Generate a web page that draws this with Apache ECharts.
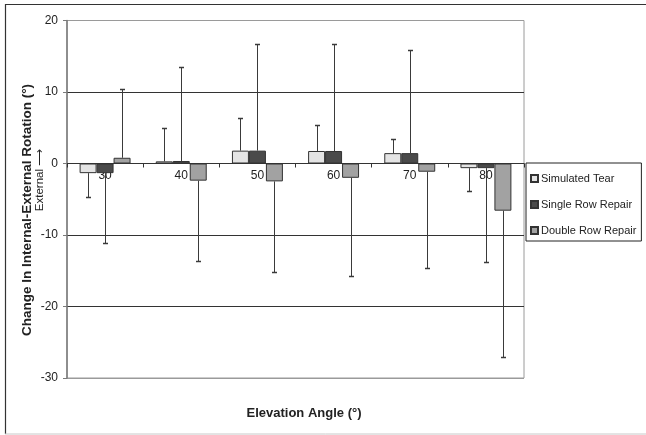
<!DOCTYPE html>
<html><head><meta charset="utf-8">
<script src="https://cdn.jsdelivr.net/npm/echarts@6/dist/echarts.min.js"></script>
<style>html,body{margin:0;padding:0;background:#fff}#c{width:646px;height:435px}</style>
</head><body><div id="c"></div>
<script>
var categories = ['30', '40', '50', '60', '70', '80'];
var seriesNames = ['Simulated Tear', 'Single Row Repair', 'Double Row Repair'];
var simulatedTear = [-1.35, 0.3, 1.8, 1.75, 1.45, -0.65];
var singleRow = [-1.35, 0.35, 1.8, 1.75, 1.45, -0.65];
var doubleRow = [0.8, -2.4, -2.5, -2.0, -1.15, -6.6];
var errSimulatedTear = [3.3, 4.7, 4.5, 3.6, 2.0, 3.2];
var errSingleRow = [9.7, 13.2, 14.9, 15.0, 14.4, 13.1];
var errDoubleRow = [9.6, 11.2, 12.7, 13.7, 13.4, 20.4];
var yTicks = [-30, -20, -10, 0, 10, 20];

var values = [simulatedTear, singleRow, doubleRow];
var errs = [errSimulatedTear, errSingleRow, errDoubleRow];
var colors = ['#e4e4e4', '#4a4a4a', '#a2a2a2'];
var BAR_FRAC = 0.223;

var GRID_TOP = 20.5, GRID_BOTTOM = 57, H = 435;
var yMin = yTicks[0], yMax = yTicks[yTicks.length - 1];
var zeroOffset = -((H - GRID_TOP - GRID_BOTTOM) * (0 - yMin) / (yMax - yMin));

var series = [];
values.forEach(function (vals, k) {
  series.push({
    name: seriesNames[k], type: 'bar', data: vals,
    barWidth: (BAR_FRAC * 100) + '%', barGap: '0%',
    itemStyle: { color: colors[k], borderColor: '#333', borderWidth: 1 },
    z: 3
  });
});
var errData = [];
values.forEach(function (vals, k) {
  vals.forEach(function (v, i) {
    var tip = v + (v >= 0 ? 1 : -1) * errs[k][i];
    errData.push([i, tip, v, k]);
  });
});
series.push({
  type: 'custom', data: errData, z: 5, silent: true,
  renderItem: function (params, api) {
    var i = api.value(0), tip = api.value(1), base = api.value(2), k = api.value(3);
    var band = api.size([1, 0])[0];
    var bw = band * BAR_FRAC;
    var off = (k - 1) * bw;
    var p1 = api.coord([i, base]);
    var p2 = api.coord([i, tip]);
    var x = Math.round(p1[0] + off) + 0.5;
    var y2 = Math.round(p2[1]) + 0.5;
    return {
      type: 'group', children: [
        { type: 'line', shape: { x1: x, y1: p1[1], x2: x, y2: y2 }, style: { stroke: '#3a3a3a', lineWidth: 1 } },
        { type: 'line', shape: { x1: x - 2.5, y1: y2, x2: x + 2.5, y2: y2 }, style: { stroke: '#3a3a3a', lineWidth: 1.5 } }
      ]
    };
  }
});

var chart = echarts.init(document.getElementById('c'), null, { renderer: 'canvas' });
chart.setOption({
  animation: false,
  textStyle: { fontFamily: 'Liberation Sans, Arial, sans-serif' },
  grid: { left: 67, right: 122, top: GRID_TOP, bottom: GRID_BOTTOM, show: true, borderColor: '#9a9a9a', borderWidth: 1 },
  legend: {
    orient: 'vertical', left: 526, top: 163, data: seriesNames,
    icon: 'rect', itemWidth: 7, itemHeight: 7, itemGap: 15,
    borderColor: '#222', borderWidth: 1, padding: [10, 5, 5, 4],
    textStyle: { fontSize: 11, color: '#222', padding: [0, 0, 0, -2] }
  },
  xAxis: {
    type: 'category', data: categories, position: 'bottom', offset: zeroOffset,
    axisLine: { onZero: false, lineStyle: { color: '#333', width: 1 } },
    axisTick: { show: true, length: 4, lineStyle: { color: '#333' } },
    axisLabel: { fontSize: 12, color: '#222', margin: 6 },
    splitLine: { show: false }
  },
  yAxis: {
    type: 'value', min: yMin, max: yMax, interval: 10,
    axisLine: { show: true, lineStyle: { color: '#7a7a7a', width: 1.5 } },
    axisTick: { show: true, length: 4, lineStyle: { color: '#7a7a7a' } },
    axisLabel: { fontSize: 12, color: '#222', margin: 9 },
    splitLine: { show: true, lineStyle: { color: ['#9a9a9a', '#333', '#333', '#333', '#333', '#9a9a9a'], width: 1 } }
  },
  series: series,
  graphic: [
    { type: 'polyline', shape: { points: [[5.5, 434], [5.5, 4.5], [646, 4.5]] }, style: { stroke: '#333', lineWidth: 1.2, fill: null } },
    { type: 'line', shape: { x1: 5, y1: 434, x2: 646, y2: 434 }, style: { stroke: '#c8c8c8', lineWidth: 1 } },
    { type: 'text', x: 27, y: 210, rotation: Math.PI / 2,
      style: { text: 'Change In Internal-External Rotation (°)', font: 'bold 13.5px Liberation Sans, Arial, sans-serif', fill: '#222', textAlign: 'center', textVerticalAlign: 'middle' } },
    { type: 'text', x: 40, y: 180, rotation: Math.PI / 2,
      style: { text: 'External \u27F6', font: '11.5px Liberation Sans, Arial, sans-serif', fill: '#222', textAlign: 'center', textVerticalAlign: 'middle' } },
    { type: 'text', x: 304, y: 413,
      style: { text: 'Elevation Angle (°)', font: 'bold 13px Liberation Sans, Arial, sans-serif', fill: '#222', textAlign: 'center', textVerticalAlign: 'middle' } }
  ]
});
</script></body></html>
